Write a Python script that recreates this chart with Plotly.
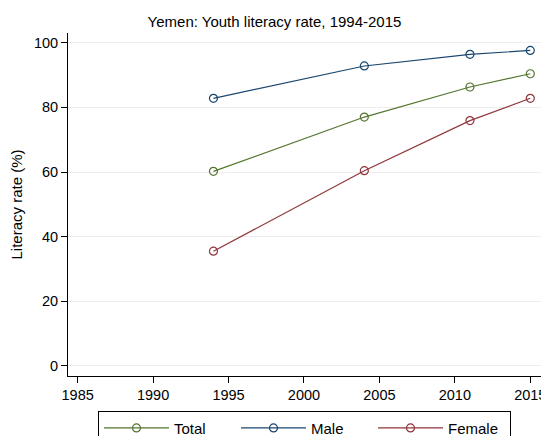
import plotly.graph_objects as go

years = [1994, 2004, 2011, 2015]
total = [60.2, 77.0, 86.3, 90.4]
male = [82.8, 92.8, 96.4, 97.6]
female = [35.5, 60.4, 75.9, 82.8]

series = [("Total", total, "#55752f"), ("Male", male, "#1a476f"), ("Female", female, "#90353b")]

fig = go.Figure()
for name, vals, col in series:
    fig.add_trace(go.Scatter(
        x=years, y=vals, name=name, mode="lines+markers",
        line=dict(color=col, width=1.2),
        marker=dict(symbol="circle-open", size=8, color=col, line=dict(width=1.2, color=col)),
    ))

# page body has an 8px offset; figure is sized/positioned to compensate
W, H = 541, 428
FONT = "Liberation Sans, Arial, sans-serif"
fig.update_layout(
    width=W, height=H,
    paper_bgcolor="white", plot_bgcolor="white",
    margin=dict(l=60, r=8, t=25, b=60),
    font=dict(family=FONT, size=14.5, color="black"),
    title=dict(text="Yemen: Youth literacy rate, 1994-2015", x=266.5 / W, xref="container", xanchor="center",
               y=1 - 14 / H, yref="container", yanchor="middle", font=dict(size=15)),
    xaxis=dict(range=[1984.36, 2015.71], tickvals=[1985, 1990, 1995, 2000, 2005, 2010, 2015],
               showgrid=False, showline=True, linecolor="black", linewidth=1,
               ticks="outside", ticklen=6, tickcolor="black", zeroline=False, automargin=False),
    yaxis=dict(range=[-3.1, 103], tickvals=[0, 20, 40, 60, 80, 100],
               showgrid=True, gridcolor="#eeeeee", gridwidth=1,
               showline=True, linecolor="black", linewidth=1,
               ticks="outside", ticklen=6, tickcolor="black", zeroline=False, automargin=False,
               title=dict(text="Literacy rate (%)", font=dict(size=15), standoff=8)),
    legend=dict(orientation="h", x=0.5, xanchor="center", xref="paper",
                y=(H - 402.7) / H, yanchor="top", yref="container",
                bordercolor="black", borderwidth=1, bgcolor="white",
                font=dict(size=15), itemwidth=65, entrywidth=57, entrywidthmode="pixels"),
    showlegend=True,
)

fig.write_html("out.html")
